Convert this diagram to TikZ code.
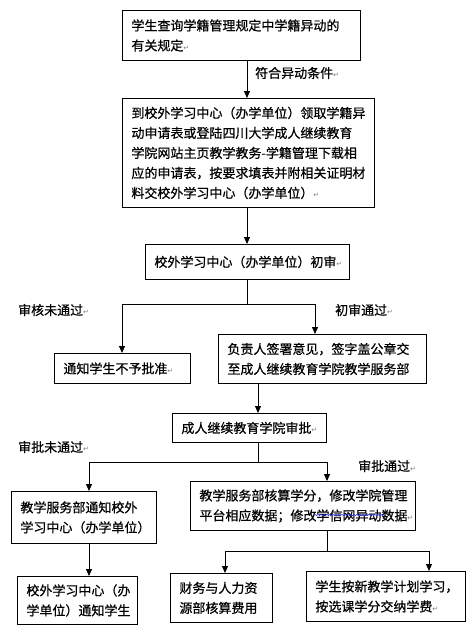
\documentclass[tikz,border=0pt]{standalone}
\usepackage{fontspec}
\setmainfont{Noto Sans CJK SC}[FakeBold=0.6]
\newfontfamily\symfont{DejaVu Sans}
\usetikzlibrary{arrows.meta,decorations.pathmorphing}
\newcommand\pmk{{\symfont\fontsize{7}{7}\selectfont\textcolor{gray}{↵}}}
\tikzset{
  box/.style={draw=black, line width=0.9pt, anchor=north west, inner xsep=9pt, inner ysep=2pt,
    align=left, font=\fontsize{13}{20}\selectfont},
  lbl/.style={anchor=west, inner sep=0pt, font=\fontsize{13}{16}\selectfont},
  conn/.style={draw=black, line width=0.9pt},
  arr/.style={conn, -{Triangle[length=7pt,width=6pt]}}
}
\begin{document}
\begin{tikzpicture}[x=1pt,y=-1pt]
\useasboundingbox (0,0) rectangle (474,630);
% boxes
\node[box, minimum width=238pt, minimum height=50pt, text width=220pt] (b1) at (122,10)
  {学生查询学籍管理规定中学籍异动的\\有关规定\pmk};
\node[box, minimum width=252pt, minimum height=109pt, text width=234pt] (b2) at (122,98)
  {到校外学习中心（办学单位）领取学籍异\\动申请表或登陆四川大学成人继续教育\\学院网站主页教学教务-学籍管理下载相\\应的申请表，按要求填表并附相关证明材\\料交校外学习中心（办学单位）\pmk};
\node[box, minimum width=204pt, minimum height=35pt, text width=186pt] (b3) at (145,244)
  {校外学习中心（办学单位）初审\pmk};
\node[box, minimum width=136pt, minimum height=30pt, text width=118pt] (b4) at (54,353)
  {通知学生不予批准\pmk};
\node[box, minimum width=208pt, minimum height=49pt, text width=190pt] (b5) at (218,334)
  {负责人签署意见，签字盖公章交\\至成人继续教育学院教学服务部};
\node[box, minimum width=154pt, minimum height=29pt, text width=136pt] (b6) at (172,413)
  {成人继续教育学院审批\pmk};
\node[box, minimum width=145pt, minimum height=52pt, text width=127pt] (b7) at (11,491)
  {教学服务部通知校外\\学习中心（办学单位）};
\node[box, minimum width=225pt, minimum height=49pt, text width=207pt] (b8) at (190,481)
  {教学服务部核算学分，修改学院管理\\平台相应数据；修改学信网异动数据\pmk};
\node[box, minimum width=120pt, minimum height=48pt, text width=102pt] (b9) at (17,576)
  {校外学习中心（办\\学单位）通知学生};
\node[box, minimum width=102pt, minimum height=49pt, text width=84pt] (b10) at (170,573)
  {财务与人力资\\源部核算费用};
\node[box, minimum width=159pt, minimum height=50pt, text width=141pt] (b11) at (306,571)
  {学生按新教学计划学习，\\按选课学分交纳学费\pmk};
% spell-check squiggle
\draw[blue!80!white, line width=0.5pt, decorate, decoration={snake, amplitude=0.7pt, segment length=3pt}]
  (314,515) -- (384,515);
% labels
\node[lbl] (l1) at (255,73) {符合异动条件\pmk};
\node[lbl] (l2) at (18,310) {审核未通过\pmk};
\node[lbl] (l3) at (335,310) {初审通过\pmk};
\node[lbl] (l4) at (18,447) {审批未通过\pmk};
\node[lbl] (l5) at (358,466) {审批通过\pmk};
% coordinates
\coordinate (xa) at (247,0);
\coordinate (s1) at (247,304);
\coordinate (xl1) at (122,0);
\coordinate (xr1) at (315,0);
\coordinate (xb) at (258,0);
\coordinate (s2) at (258,462);
\coordinate (xl2) at (89,0);
\coordinate (xr2) at (327,0);
\coordinate (s3) at (327,551);
\coordinate (xl3) at (225,0);
\coordinate (xr3) at (429,0);
% connectors
\draw[arr] (b1.south -| xa) -- (b2.north -| xa);
\draw[arr] (b2.south -| xa) -- (b3.north -| xa);
\draw[conn] (b3.south -| xa) -- (s1);
\draw[arr] (s1) -| (b4.north -| xl1);
\draw[arr] (s1) -| (b5.north -| xr1);
\draw[arr] (b5.south -| xb) -- (b6.north -| xb);
\draw[conn] (b6.south -| xb) -- (s2);
\draw[arr] (s2) -| (b7.north -| xl2);
\draw[arr] (s2) -| (b8.north -| xr2);
\draw[arr] (b7.south -| xl2) -- (b9.north -| xl2);
\draw[conn] (b8.south -| xr2) -- (s3);
\draw[arr] (s3) -| (b10.north -| xl3);
\draw[arr] (s3) -| (b11.north -| xr3);
\end{tikzpicture}
\end{document}
